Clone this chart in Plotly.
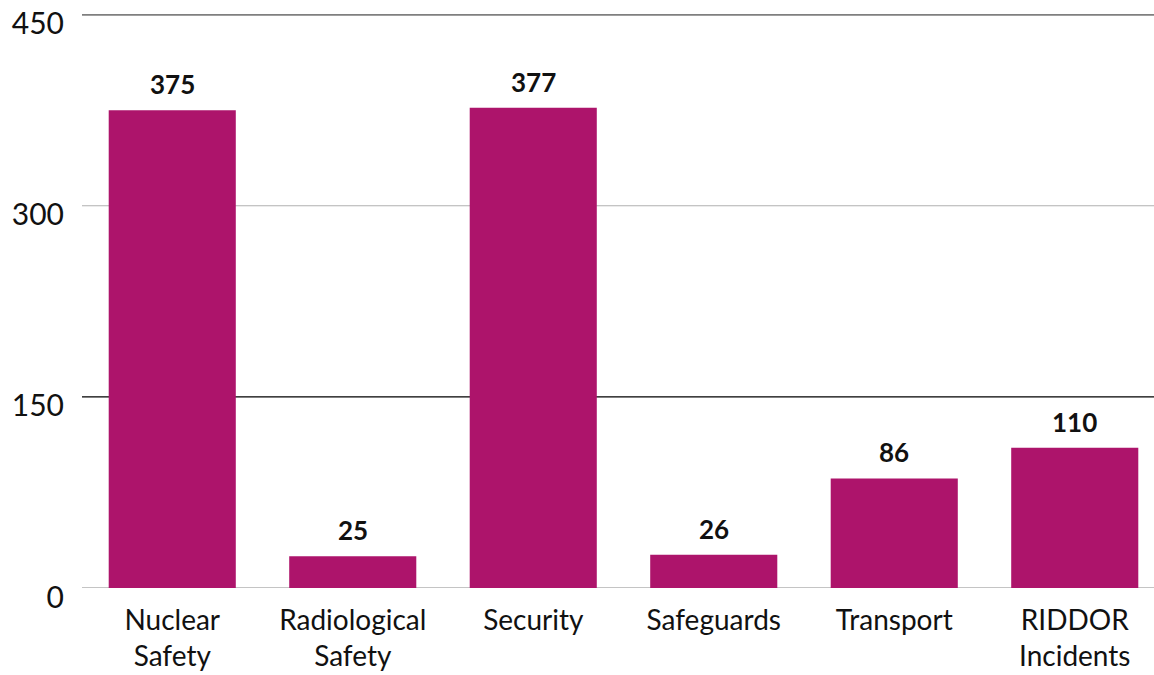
import plotly.graph_objects as go

categories = ["Nuclear<br>Safety", "Radiological<br>Safety", "Security", "Safeguards", "Transport", "RIDDOR<br>Incidents"]
values = [375, 25, 377, 26, 86, 110]
y_ticks = [0, 150, 300, 450]
grid_colors = ["#c4c4c4", "#000000", "#b0b0b0", "#7f7f7f"]
grid_widths = [2, 1.3, 1, 2]

BAR_COLOR = "#AD146B"
FONT = "Lato, Open Sans, sans-serif"

fig = go.Figure()
fig.add_trace(go.Bar(
    x=categories, y=values,
    marker=dict(color=BAR_COLOR, line=dict(width=0)),
    hoverinfo="x+y",
))

for c, v in zip(categories, values):
    fig.add_annotation(
        x=c, y=v, text=f"<b>{v}</b>", showarrow=False,
        yanchor="bottom", yshift=8,
        font=dict(family=FONT, size=26, color="#111111"),
    )

for t, col, w in zip(y_ticks, grid_colors, grid_widths):
    fig.add_shape(type="line", xref="paper", x0=0, x1=1, yref="y", y0=t, y1=t,
                  line=dict(color=col, width=w), layer="below")

fig.update_layout(
    width=1165, height=675,
    margin=dict(l=82, r=0, t=14, b=87, autoexpand=False),
    paper_bgcolor="white", plot_bgcolor="white",
    bargap=0.296,
    showlegend=False,
    font=dict(family=FONT, size=28, color="#111111"),
)
fig.update_yaxes(
    range=[0, 450.5], tickvals=y_ticks, showgrid=False, zeroline=False,
    showline=False, ticklabelstandoff=17, ticklabelshift=9, automargin=False,
    ticklabeloverflow="allow",
    tickfont=dict(family=FONT, size=30, color="#111111"),
)
fig.update_xaxes(
    showgrid=False, showline=False, zeroline=False, ticklabelstandoff=13,
    automargin=False, ticklabeloverflow="allow",
    tickfont=dict(family=FONT, size=28, color="#111111"),
)

fig.write_html(
    "out.html",
    config={"displayModeBar": False},
    post_script="document.body.style.margin='0';document.body.style.overflow='hidden';",
)
